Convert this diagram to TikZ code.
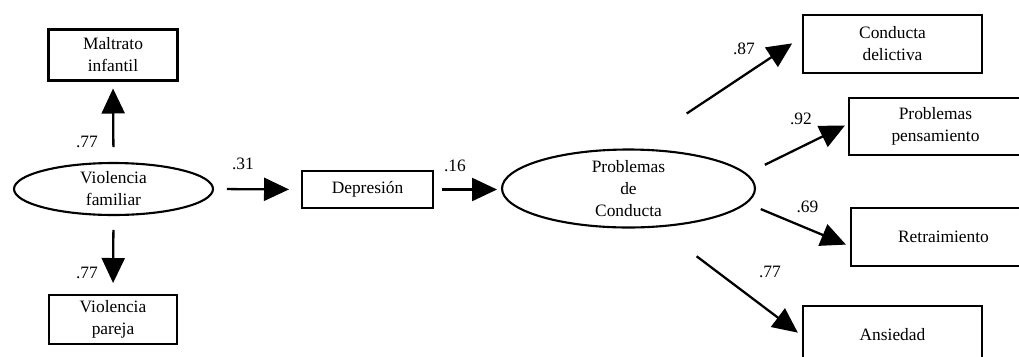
\documentclass[tikz,border=0pt]{standalone}
\usepackage{fontspec}
\setmainfont{Liberation Serif}
\usetikzlibrary{arrows.meta, shapes.geometric}

\begin{document}
\begin{tikzpicture}[x=0.02cm, y=-0.02cm,
  font=\fontsize{9.9}{12.5}\selectfont,
  caja/.style={draw, line width=1.3pt, align=center, inner sep=0pt, outer sep=0pt},
  latente/.style={draw, ellipse, line width=1.2pt, inner sep=0pt, outer sep=0pt},
  flecha/.style={line width=1.3pt, -{Triangle[length=0.5cm, width=0.46cm]}},
  peso/.style={inner sep=0pt}]
\useasboundingbox (0,0) rectangle (1019,356);
\clip (0,0) rectangle (1019,356);

% variables latentes
\node[latente, minimum width=3.98cm, minimum height=1.04cm,
  label={[align=center]center:Violencia\\familiar}] (vf) at (113.5,189) {};
\node[latente, minimum width=5.06cm, minimum height=1.56cm,
  label={[align=center]center:Problemas\\de\\Conducta}] (pc) at (628.5,188.5) {};

% indicadores
\node[caja, minimum width=2.58cm, minimum height=1.02cm] (mi) at (113,55) {Maltrato\\infantil};
\node[caja, minimum width=2.56cm, minimum height=0.98cm] (vp) at (113,319.5) {Violencia\\pareja};
\node[caja, minimum width=2.62cm, minimum height=0.74cm] (dep) at (367.5,189.5) {Depresión};
\node[caja, minimum width=3.58cm, minimum height=1.16cm] (cd) at (892.5,44) {Conducta\\delictiva};
\node[caja, minimum width=3.46cm, minimum height=1.14cm] (pp) at (935.5,126.5) {Problemas\\pensamiento};
\node[caja, minimum width=3.7cm, minimum height=1.16cm] (rt) at (943.5,237) {Retraimiento};
\node[caja, minimum width=3.58cm, minimum height=1.16cm] (an) at (892.5,335) {Ansiedad};

% flechas
\draw[flecha, shorten <=0.32cm, shorten >=0.16cm] (vf.north) -- (mi.south);
\draw[flecha, shorten <=0.3cm, shorten >=0.24cm] (vf.south) -- (vp.north);
\draw[flecha, shorten <=0.28cm, shorten >=0.26cm] (vf.east) -- (dep.west);
\draw[flecha, shorten <=0.18cm, shorten >=0.1cm] (dep.east) -- (dep.east -| pc.west);
\draw[flecha, shorten <=1.3cm, shorten >=0.26cm] (pc.84) -- (cd.175);
\draw[flecha, shorten <=0.42cm, shorten >=0.09cm] (pc.7) -- (pp.178);
\draw[flecha, shorten <=0.32cm, shorten >=0.11cm] (pc.353) -- (rt.186);
\draw[flecha, shorten <=0.99cm, shorten >=0.13cm] (pc.307) -- (an.181);

% pesos
\node[peso] (w1) at (87,142) {.77};
\node[peso] (w2) at (87,273) {.77};
\node[peso] (w3) at (243,164) {.31};
\node[peso] (w4) at (455,165.5) {.16};
\node[peso] (w5) at (744,49) {.87};
\node[peso] (w6) at (801,119) {.92};
\node[peso] (w7) at (807.5,206.5) {.69};
\node[peso] (w8) at (770,271.5) {.77};
\end{tikzpicture}
\end{document}
